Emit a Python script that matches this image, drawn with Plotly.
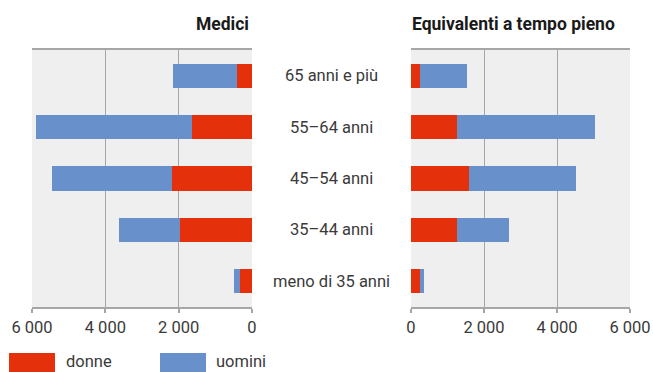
import plotly.graph_objects as go

# Age classes, listed bottom to top
classi = ["meno di 35 anni", "35–44 anni", "45–54 anni", "55–64 anni", "65 anni e più"]

# Medici (headcount)
medici_donne = [330, 1960, 2180, 1640, 400]
medici_uomini = [160, 1680, 3270, 4250, 1750]

# Equivalenti a tempo pieno
fte_donne = [240, 1270, 1600, 1270, 250]
fte_uomini = [125, 1420, 2930, 3780, 1290]

tick_vals = [0, 2000, 4000, 6000]
tick_text = ["0", "2 000", "4 000", "6 000"]

ROSSO = "#E5300C"
BLU = "#6891CB"
GRIGIO = "#A6A6A6"
TESTO = "#3a3a3a"
FONT = "Roboto"
FS = 16.5

W, H = 653, 372

def px_x(v):
    return v / W

def px_y(v):
    return 1 - v / H

fig = go.Figure()

fig.add_trace(go.Bar(y=classi, x=medici_donne, orientation="h", marker_color=ROSSO,
                     marker_line_width=0, xaxis="x", yaxis="y", showlegend=False))
fig.add_trace(go.Bar(y=classi, x=medici_uomini, orientation="h", marker_color=BLU,
                     marker_line_width=0, xaxis="x", yaxis="y", showlegend=False))
fig.add_trace(go.Bar(y=classi, x=fte_donne, orientation="h", marker_color=ROSSO,
                     marker_line_width=0, xaxis="x2", yaxis="y2", showlegend=False))
fig.add_trace(go.Bar(y=classi, x=fte_uomini, orientation="h", marker_color=BLU,
                     marker_line_width=0, xaxis="x2", yaxis="y2", showlegend=False))

y_dom = [px_y(307), px_y(50)]

xaxis_common = dict(
    tickvals=tick_vals, ticktext=tick_text,
    showgrid=True, gridcolor=GRIGIO, gridwidth=1,
    showline=True, linecolor=GRIGIO, linewidth=1.5, mirror=True,
    ticks="outside", ticklen=4, tickcolor=GRIGIO, tickwidth=1.5,
    tickfont=dict(family=FONT, size=FS, color=TESTO),
    zeroline=False, automargin=False, fixedrange=True,
)
yaxis_common = dict(
    domain=y_dom, showticklabels=False, showgrid=False, zeroline=False,
    showline=False, ticks="", categoryorder="array", categoryarray=classi,
    range=[-0.5, 4.5], automargin=False, fixedrange=True,
)

fig.update_layout(
    template="none",
    width=W, height=H,
    margin=dict(l=0, r=0, t=0, b=0, pad=0),
    paper_bgcolor="white",
    plot_bgcolor="#EFEFEF",
    barmode="stack",
    bargap=0.53,
    xaxis=dict(xaxis_common, domain=[px_x(32), px_x(252)], range=[6000, 0], anchor="y"),
    xaxis2=dict(xaxis_common, domain=[px_x(411), px_x(630)], range=[0, 6000], anchor="y2"),
    yaxis=dict(yaxis_common, anchor="x"),
    yaxis2=dict(yaxis_common, anchor="x2"),
    showlegend=False,
)

annotations = []
# Panel titles
annotations.append(dict(text="<b>Medici</b>", x=px_x(251), y=px_y(24), xref="paper", yref="paper",
                        xanchor="right", yanchor="middle", showarrow=False,
                        font=dict(family=FONT, size=17.5, color="#1a1a1a")))
annotations.append(dict(text="<b>Equivalenti a tempo pieno</b>", x=px_x(410), y=px_y(24),
                        xref="paper", yref="paper", xanchor="left", yanchor="middle",
                        showarrow=False, font=dict(family=FONT, size=17.5, color="#1a1a1a")))
# Age class labels between the panels
for c in classi:
    annotations.append(dict(text=c, x=px_x(331), y=c, xref="paper", yref="y",
                            xanchor="center", yanchor="middle", showarrow=False,
                            font=dict(family=FONT, size=FS, color=TESTO)))
# Legend
for label, col, x0, xt in [("donne", ROSSO, 9, 65), ("uomini", BLU, 160, 215)]:
    fig.add_shape(type="rect", xref="paper", yref="paper",
                  x0=px_x(x0), x1=px_x(x0 + 46), y0=px_y(373), y1=px_y(353),
                  fillcolor=col, line_width=0)
    annotations.append(dict(text=label, x=px_x(xt), y=0, xref="paper", yref="paper",
                            xanchor="left", yanchor="bottom", showarrow=False, borderpad=0,
                            font=dict(family=FONT, size=FS, color=TESTO)))

fig.update_layout(annotations=annotations)

fig.write_html("out.html")
